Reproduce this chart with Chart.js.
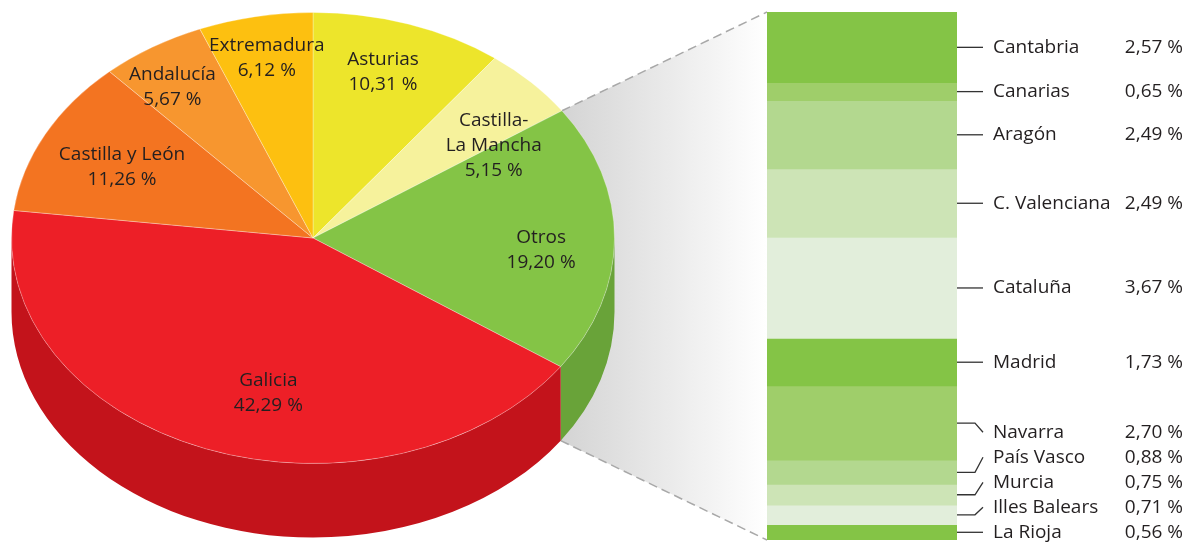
<!DOCTYPE html>
<html>
<head>
<meta charset="utf-8">
<script src="https://cdn.jsdelivr.net/npm/chart.js@4.4.1/dist/chart.umd.min.js"></script>
<style>
  html, body { margin: 0; padding: 0; background: #fff; overflow: hidden; }
  #wrap { position: relative; width: 1195px; height: 545px; }
  #pieBox { position: absolute; left: 0; top: -64px; width: 1195px; height: 608px; }
  #barBox { position: absolute; left: 0; top: 0; width: 1195px; height: 545px; }
</style>
</head>
<body>
<div id="wrap">
  <div id="pieBox"><canvas id="pieChart"></canvas></div>
  <div id="barBox"><canvas id="barChart"></canvas></div>
</div>
<script>
// main pie: share per region (%)
const pieRegions = [['Asturias'], ['Castilla-', 'La Mancha'], ['Otros'], ['Galicia'], ['Castilla y León'], ['Andalucía'], ['Extremadura']];
const pieShares = [10.31, 5.15, 19.20, 42.29, 11.26, 5.67, 6.12];

// breakdown of "Otros"
const otherRegions = ['Cantabria', 'Canarias', 'Aragón', 'C. Valenciana', 'Cataluña', 'Madrid', 'Navarra', 'País Vasco', 'Murcia', 'Illes Balears', 'La Rioja'];
const otherShares = [2.57, 0.65, 2.49, 2.49, 3.67, 1.73, 2.70, 0.88, 0.75, 0.71, 0.56];

// styles
const pieColors = ['#ede52b', '#f6f29c', '#84c446', '#ed1f27', '#f37421', '#f7962f', '#fdc010'];
const sideColors = ['#c9c31f', '#d3cf80', '#69a339', '#c3131b', '#cc5e17', '#d07b22', '#d6a00a'];
const otherColors = ['#84c446', '#9fce6a', '#b3d88f', '#cde4b6', '#e2eedb', '#84c446', '#9fce6a', '#b3d88f', '#cde4b6', '#e2eedb', '#84c446'];
const labelNudge = [[-2, -6], [17, 24], [2, 11], [36, -3], [10, 7], [-20, -8], [-3, -14]];

const TILT = 0.748;   // vertical squash of the pie top
const DEPTH = 74;     // thickness of the 3d pie
const PIE_TOP = -64;  // offset of the pie canvas on the page
const FONT = '19px "Open Sans"';
const TEXT = '#231f20';

const fmt = v => v.toFixed(2).replace('.', ',') + ' %';
const total = otherShares.reduce((a, b) => a + b, 0);

// labels + leader lines next to the column
const barLabels = {
  id: 'barLabels',
  afterDatasetsDraw(chart) {
    const ctx = chart.ctx;
    const items = chart.data.datasets.map((ds, i) => {
      const el = chart.getDatasetMeta(i).data[0];
      return { mid: (el.y + el.base) / 2, right: el.x + el.width / 2 };
    });
    // stack crowded labels upward from the bottom
    const bottom = chart.chartArea.bottom - 7;
    let prev = null;
    for (let i = items.length - 1; i >= 0; i--) {
      let y = Math.min(items[i].mid, bottom);
      if (prev !== null && prev - y < 36) y = prev - 25;
      items[i].ly = y;
      prev = y;
    }
    ctx.save();
    ctx.strokeStyle = '#333';
    ctx.lineWidth = 1.3;
    ctx.fillStyle = TEXT;
    ctx.font = FONT;
    ctx.textBaseline = 'middle';
    items.forEach((it, i) => {
      ctx.beginPath();
      ctx.moveTo(it.right, it.mid);
      if (Math.abs(it.ly - it.mid) < 1.5) {
        ctx.lineTo(it.right + 26, it.mid);
      } else {
        ctx.lineTo(it.right + 18, it.mid);
        ctx.lineTo(it.right + 26, it.ly);
      }
      ctx.stroke();
      ctx.textAlign = 'left';
      ctx.fillText(otherRegions[i], it.right + 36, it.ly);
      ctx.textAlign = 'right';
      ctx.fillText(fmt(otherShares[i]), chart.width - 12, it.ly);
    });
    ctx.restore();
  }
};

const barChart = new Chart(document.getElementById('barChart'), {
  type: 'bar',
  data: {
    labels: ['Otros'],
    datasets: otherRegions.map((name, i) => ({
      label: name,
      data: [otherShares[i]],
      backgroundColor: otherColors[i],
      borderWidth: 0,
      barPercentage: 1,
      categoryPercentage: 1
    }))
  },
  options: {
    responsive: true,
    maintainAspectRatio: false,
    animation: false,
    layout: { padding: { left: 767, right: 238, top: 12, bottom: 5 } },
    plugins: { legend: { display: false }, tooltip: { enabled: false } },
    scales: {
      x: { stacked: true, display: false },
      y: { stacked: true, display: false, reverse: true, min: 0, max: total }
    }
  },
  plugins: [barLabels]
});

// 3d look: side walls, tilted top, zoom wedge to the column
const pie3d = {
  id: 'pie3d',
  beforeDatasetsDraw(chart) {
    const ctx = chart.ctx;
    const arcs = chart.getDatasetMeta(0).data;
    const { x, y, outerRadius: r } = arcs[0];
    const ry = r * TILT;

    // wedge from "Otros" to the column
    const o = arcs[pieRegions.findIndex(n => n[0] === 'Otros')];
    const p1 = [x + r * Math.cos(o.startAngle), y + ry * Math.sin(o.startAngle)];
    const p2 = [x + r * Math.cos(o.endAngle), y + ry * Math.sin(o.endAngle) + DEPTH];
    const bm = barChart.getDatasetMeta(0).data[0];
    const bx = bm.x - bm.width / 2;
    const ys = barChart.scales.y;
    const yA = ys.getPixelForValue(ys.min) - PIE_TOP;
    const yB = ys.getPixelForValue(ys.max) - PIE_TOP;
    const bTop = Math.min(yA, yB), bBot = Math.max(yA, yB);

    ctx.save();
    const grad = ctx.createLinearGradient(p1[0], 0, bx, 0);
    grad.addColorStop(0, '#d4d4d4');
    grad.addColorStop(1, '#ffffff');
    ctx.beginPath();
    ctx.moveTo(p1[0], p1[1]);
    ctx.lineTo(bx, bTop);
    ctx.lineTo(bx, bBot);
    ctx.lineTo(p2[0], p2[1]);
    ctx.lineTo(p1[0] - 40, p2[1]);
    ctx.lineTo(p1[0] - 40, p1[1]);
    ctx.closePath();
    ctx.fillStyle = grad;
    ctx.fill();
    ctx.setLineDash([9, 5]);
    ctx.strokeStyle = '#a8a8a8';
    ctx.lineWidth = 1.5;
    ctx.beginPath();
    ctx.moveTo(p1[0], p1[1]); ctx.lineTo(bx, bTop);
    ctx.moveTo(p2[0], p2[1]); ctx.lineTo(bx, bBot);
    ctx.stroke();
    ctx.restore();

    // side walls (front half only)
    arcs.forEach((arc, i) => {
      const a1 = Math.max(arc.startAngle, 0);
      const a2 = Math.min(arc.endAngle, Math.PI);
      if (a2 <= a1) return;
      ctx.beginPath();
      ctx.ellipse(x, y, r, ry, 0, a1, a2);
      ctx.ellipse(x, y + DEPTH, r, ry, 0, a2, a1, true);
      ctx.closePath();
      ctx.fillStyle = sideColors[i];
      ctx.fill();
    });

    // squash the top face
    ctx.save();
    ctx.translate(x, y);
    ctx.scale(1, TILT);
    ctx.translate(-x, -y);
  },
  afterDatasetsDraw(chart) {
    const ctx = chart.ctx;
    ctx.restore();
    const arcs = chart.getDatasetMeta(0).data;
    const { x, y, outerRadius: r } = arcs[0];
    const ry = r * TILT;
    ctx.save();
    ctx.font = FONT;
    ctx.fillStyle = TEXT;
    ctx.textAlign = 'center';
    ctx.textBaseline = 'middle';
    arcs.forEach((arc, i) => {
      const mid = (arc.startAngle + arc.endAngle) / 2;
      const lx = x + 0.75 * r * Math.cos(mid) + labelNudge[i][0];
      const ly = y + 0.75 * ry * Math.sin(mid) + labelNudge[i][1];
      const lines = [...pieRegions[i], fmt(pieShares[i])];
      lines.forEach((t, j) => ctx.fillText(t, lx, ly + (j - (lines.length - 1) / 2) * 25));
    });
    ctx.restore();
  }
};

const pieChart = new Chart(document.getElementById('pieChart'), {
  type: 'pie',
  data: {
    labels: pieRegions.map(n => n.join(' ')),
    datasets: [{
      data: pieShares,
      backgroundColor: pieColors,
      borderColor: 'rgba(255,255,255,0.35)',
      borderWidth: 1
    }]
  },
  options: {
    responsive: true,
    maintainAspectRatio: false,
    animation: false,
    layout: { padding: { left: 11, right: 580, top: 0, bottom: 4 } },
    plugins: { legend: { display: false }, tooltip: { enabled: false } }
  },
  plugins: [pie3d]
});
</script>
</body>
</html>
